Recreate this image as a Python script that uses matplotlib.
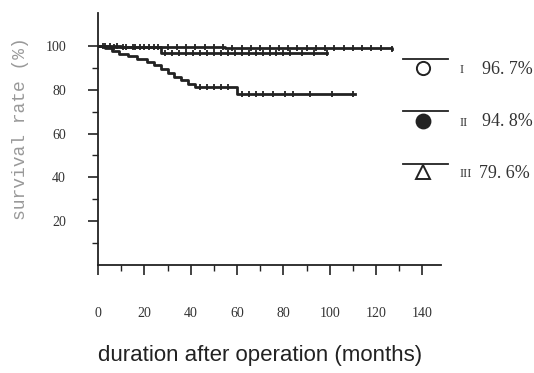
import numpy as np
import matplotlib
matplotlib.use("Agg")
import matplotlib.pyplot as plt
from matplotlib.lines import Line2D

# ==========================
# data
# ==========================
# group I
t1 = [0, 10, 55, 127]
s1 = [100, 99.6, 99.0, 98.6]
c1 = [2, 5, 8, 12, 15, 18, 22, 26, 30, 34, 38, 42, 46, 50, 54, 58, 62, 66,
      70, 74, 78, 82, 86, 90, 94, 98, 102, 106, 110, 114, 118, 122, 127]

# group II
t2 = [0, 5, 27, 99]
s2 = [100, 99.3, 96.6, 96.6]
c2 = [3, 7, 11, 16, 20, 24, 29, 32, 35, 38, 41, 44, 47, 50, 53, 56, 59,
      62, 65, 68, 71, 74, 77, 80, 83, 88, 93, 99]

# group III
t3 = [0, 3, 6, 9, 13, 17, 21, 24, 27, 30, 33, 36, 39, 42, 60, 111]
s3 = [100, 98.8, 97.6, 96.4, 95.4, 94.2, 92.8, 91.2, 89.5, 87.8, 86.0,
      84.2, 82.6, 81.3, 78.2, 78.2]
c3 = [44, 47, 50, 53, 56, 62, 65, 68, 71, 75.6, 80.6, 84.2, 91.4, 100.8, 110]

groups = ["I", "II", "III"]
rates = ["96. 7%", "94. 8%", "79. 6%"]

xticks = [0, 20, 40, 60, 80, 100, 120, 140]
yticks = [20, 40, 60, 80, 100]

W, H = 534, 373
ink = "#222222"


def step_val(t, s, x):
    i = np.searchsorted(t, x, side="right") - 1
    return np.asarray(s)[i]


fig = plt.figure(figsize=(W / 100, H / 100), dpi=100)
ax = fig.add_axes([98 / W, 1 - 265 / H, (441 - 98) / W, (265 - 13) / H])

for t, s, c in [(t1, s1, c1), (t2, s2, c2), (t3, s3, c3)]:
    ax.step(t, s, where="post", color=ink, linewidth=2.0)
    ax.plot(c, step_val(t, s, c), linestyle="none", marker="|",
            markersize=4, markeredgewidth=1.3, color=ink)

ax.set_xlim(0, 148)
ax.set_ylim(0, 115)
ax.spines["top"].set_visible(False)
ax.spines["right"].set_visible(False)
for sp in ["left", "bottom"]:
    ax.spines[sp].set_linewidth(1.3)
    ax.spines[sp].set_color(ink)

ax.set_xticks(xticks)
ax.set_xticks(np.arange(10, 150, 20), minor=True)
ax.set_yticks(yticks)
ax.set_yticks(np.arange(10, 110, 20), minor=True)
ax.tick_params(which="major", direction="out", length=7, width=1.2, color=ink)
ax.tick_params(which="minor", direction="out", length=4, width=1.0, color=ink)
ax.tick_params(axis="x", which="major", pad=23)
ax.tick_params(axis="y", which="major", pad=16)
for lab in ax.get_xticklabels() + ax.get_yticklabels():
    lab.set_fontfamily("Liberation Serif")
    lab.set_fontsize(10)
    lab.set_color("#333333")

fig.text(21 / W, 1 - 129 / H, "survival rate (%)", family="Liberation Mono",
         fontsize=13, color="#999999", rotation=90, ha="center", va="center")
fig.text(260 / W, 1 - 355 / H, "duration after operation (months)",
         family="Liberation Sans", fontsize=16, color=ink,
         ha="center", va="center")

# legend drawn by hand to the right
leg_y = [59, 111, 164]
mk_y = [68, 121, 172]
markers = [("o", "white", 9.5), ("o", ink, 10), ("^", "white", 9.5)]
for k in range(3):
    fy = 1 - leg_y[k] / H
    fig.add_artist(Line2D([403 / W, 448 / W], [fy, fy], color=ink,
                          linewidth=1.3, transform=fig.transFigure))
    m, fc, ms = markers[k]
    fig.add_artist(Line2D([423 / W], [1 - mk_y[k] / H], marker=m,
                          markersize=ms, markerfacecolor=fc,
                          markeredgecolor=ink, markeredgewidth=1.4,
                          linestyle="none", transform=fig.transFigure))
    fig.text(460 / W, 1 - (mk_y[k] + 2) / H, groups[k], family="Liberation Serif",
             fontsize=9, color="#333333", ha="left", va="center")
    fig.text(482 / W if k < 2 else 479 / W, 1 - (mk_y[k] + 1) / H, rates[k],
             family="Liberation Serif", fontsize=13, color="#333333",
             ha="left", va="center")

plt.savefig("out.png", dpi=100, facecolor="white")
